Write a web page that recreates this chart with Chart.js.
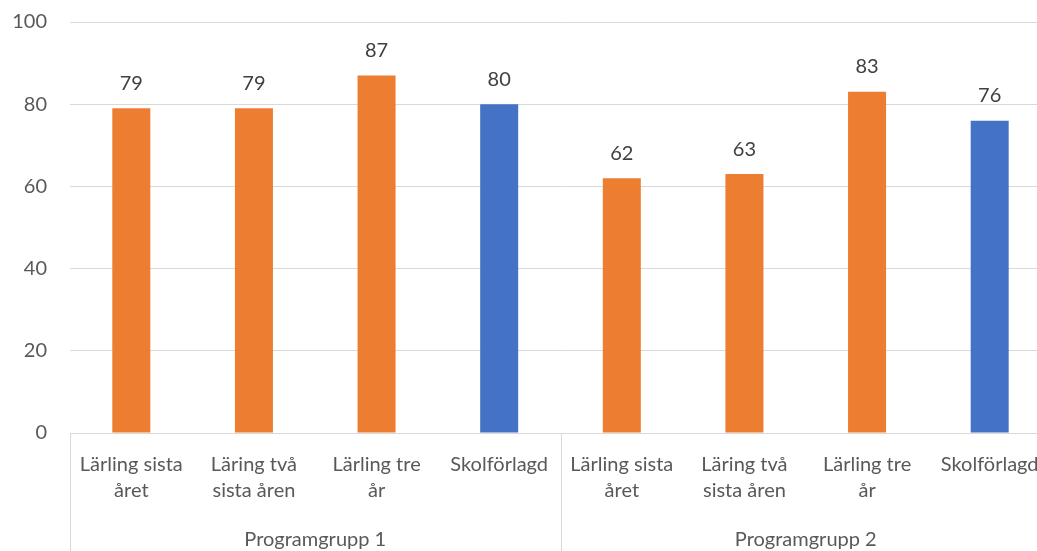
<!DOCTYPE html>
<html>
<head>
<meta charset="utf-8">
<script src="https://cdn.jsdelivr.net/npm/chart.js@4.4.1/dist/chart.umd.min.js"></script>
<style>
    html, body { margin: 0; padding: 0; background: #fff; overflow: hidden; }
    #wrap { width: 1051px; height: 551px; }
</style>
</head>
<body>
<div id="wrap"><canvas id="resultChart"></canvas></div>
<script>
// categories (multi-line labels) and groups
const categories = [
    ['Lärling sista', 'året'],
    ['Läring två', 'sista åren'],
    ['Lärling tre', 'år'],
    ['Skolförlagd'],
    ['Lärling sista', 'året'],
    ['Läring två', 'sista åren'],
    ['Lärling tre', 'år'],
    ['Skolförlagd']
];
const groups = ['Programgrupp 1', 'Programgrupp 2'];
const groupSize = 4;
const values = [79, 79, 87, 80, 62, 63, 83, 76];
const barColors = ['#ED7D31', '#ED7D31', '#ED7D31', '#4472C4', '#ED7D31', '#ED7D31', '#ED7D31', '#4472C4'];
const yTicks = [0, 20, 40, 60, 80, 100];

const textColor = '#595959';
const fontFamily = 'Lato, "Open Sans", sans-serif';
const fontSize = 20;

// value labels above the bars + group labels and separators under the axis
const extrasPlugin = {
    id: 'extras',
    afterDatasetsDraw(chart) {
        const ctx = chart.ctx;
        const meta = chart.getDatasetMeta(0);
        ctx.save();
        ctx.font = fontSize + 'px ' + fontFamily;
        ctx.fillStyle = '#404040';
        ctx.textAlign = 'center';
        ctx.textBaseline = 'middle';
        meta.data.forEach(function(bar, i) {
            ctx.fillText(values[i], bar.x, bar.y - 25);
        });
        ctx.restore();
    },
    afterDraw(chart) {
        const ctx = chart.ctx;
        const x = chart.scales.x;
        const area = chart.chartArea;
        const half = (x.getPixelForValue(1) - x.getPixelForValue(0)) / 2;
        ctx.save();
        ctx.strokeStyle = '#d9d9d9';
        ctx.lineWidth = 1;
        for (let g = 0; g <= groups.length; g++) {
            const idx = g * groupSize;
            const px = Math.round(x.getPixelForValue(idx) - half) + 0.5;
            ctx.beginPath();
            ctx.moveTo(px, area.bottom);
            ctx.lineTo(px, chart.height);
            ctx.stroke();
        }
        ctx.font = fontSize + 'px ' + fontFamily;
        ctx.fillStyle = textColor;
        ctx.textAlign = 'center';
        ctx.textBaseline = 'middle';
        groups.forEach(function(name, g) {
            const a = x.getPixelForValue(g * groupSize) - half;
            const b = x.getPixelForValue(g * groupSize + groupSize - 1) + half;
            ctx.fillText(name, (a + b) / 2, 540);
        });
        ctx.restore();
    }
};

document.addEventListener('DOMContentLoaded', function() {
    const ctx = document.getElementById('resultChart').getContext('2d');

    new Chart(ctx, {
        type: 'bar',
        data: {
            labels: categories,
            datasets: [{
                data: values,
                backgroundColor: barColors,
                barPercentage: 0.31,
                categoryPercentage: 1.0
            }]
        },
        options: {
            responsive: true,
            maintainAspectRatio: false,
            animation: false,
            layout: {
                padding: { left: 0, right: 0, top: 22, bottom: 0 }
            },
            plugins: {
                legend: { display: false },
                tooltip: { enabled: false }
            },
            scales: {
                x: {
                    grid: { display: false, drawTicks: true, tickLength: 19 },
                    border: { color: '#d9d9d9' },
                    ticks: {
                        color: textColor,
                        font: { family: fontFamily, size: fontSize, lineHeight: 1.3 },
                        padding: 0,
                        maxRotation: 0,
                        autoSkip: false
                    },
                    afterFit(scale) { scale.height = 118; }
                },
                y: {
                    min: 0,
                    max: 100,
                    afterBuildTicks(scale) {
                        scale.ticks = yTicks.map(v => ({ value: v }));
                    },
                    grid: { color: '#d9d9d9', drawTicks: true, tickLength: 23, tickColor: 'rgba(0,0,0,0)' },
                    border: { display: false },
                    ticks: {
                        color: textColor,
                        font: { family: fontFamily, size: fontSize },
                        padding: 0
                    },
                    afterFit(scale) { scale.width = 70; }
                }
            }
        },
        plugins: [extrasPlugin]
    });
});
</script>
</body>
</html>
